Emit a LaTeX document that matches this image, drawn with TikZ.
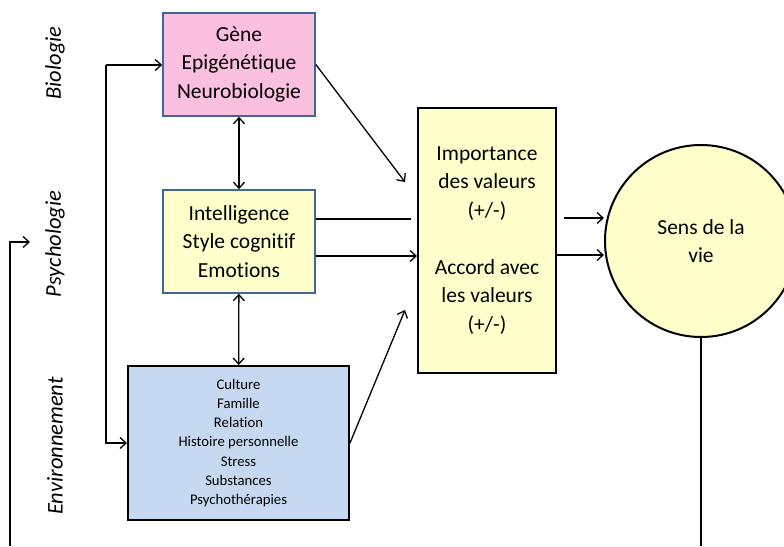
\documentclass[tikz,border=0pt]{standalone}
\usepackage{fontspec}
\setmainfont{Carlito}[Ligatures=NoCommon]
\usetikzlibrary{arrows.meta, positioning}
\definecolor{rose}{HTML}{FBBFDF}
\definecolor{jaune}{HTML}{FFFFCC}
\definecolor{bleu}{HTML}{C6D9F1}
\definecolor{bord}{HTML}{41679A}
\tikzstyle{facteur} = [rectangle, minimum width=152pt, minimum height=103pt, align=center,
    draw=bord, line width=1.6pt, font=\fontsize{21.5}{28.5}\selectfont]
\tikzstyle{milieu}  = [rectangle, minimum width=221pt, minimum height=154pt, align=center,
    draw=black, line width=2pt, fill=bleu, font=\fontsize{14.7}{19.3}\selectfont]
\tikzstyle{valeurs} = [rectangle, minimum width=138pt, minimum height=265pt, align=center,
    draw=black, line width=2pt, fill=jaune, font=\fontsize{21.5}{28.5}\selectfont]
\tikzstyle{sens}    = [circle, minimum size=192pt, align=center, inner sep=0pt,
    draw=black, line width=2pt, fill=jaune, font=\fontsize{21.5}{28.5}\selectfont]
\tikzstyle{domaine} = [rotate=90, font=\fontsize{22.5}{27}\selectfont\itshape]
\tikzstyle{arrow}   = [line width=1.3pt, -{Straight Barb[length=6pt,width=11pt]}]
\tikzstyle{both}    = [line width=1.3pt, {Straight Barb[length=6pt,width=11pt]}-{Straight Barb[length=6pt,width=11pt]}]
\tikzstyle{trait}   = [line width=1.3pt]

\begin{document}
\begin{tikzpicture}[x=1pt, y=-1pt]
    \useasboundingbox (0,0) rectangle (784,546);

    \node (bio)   [domaine] at (55,63)  {Biologie};
    \node (psy)   [domaine] at (55,244) {Psychologie};
    \node (env)   [domaine] at (55,446) {Environnement};

    \node (gene)  [facteur, fill=rose]  at (239,64.5)  {Gène\\Epigénétique\\Neurobiologie};
    \node (intel) [facteur, fill=jaune] at (239,241.5) {Intelligence\\Style cognitif\\Emotions};
    \node (cult)  [milieu]  at (238.5,443) {Culture\\Famille\\Relation\\Histoire personnelle\\Stress\\Substances\\Psychothérapies};
    \node (val)   [valeurs] at (487,240.5) {Importance\\des valeurs\\(+/-)\\[28.5pt]Accord avec\\les valeurs\\(+/-)};
    \node (vie)   [sens]    at (701,241)   {Sens de la\\vie};

    \coordinate (hautval) at (405,182);
    \coordinate (basval)  at (405,310);
    \coordinate (coupe)   at (411,219);
    \coordinate (sortie)  at (564,218);
    \coordinate (boucle)  at (10,546);
    \coordinate (retour)  at (30,242);
    \coordinate (fin)     at (701,546);
    \coordinate (gauche)  at (106,65);

    \draw [both]  (gene)  -- (intel);
    \draw [both]  (intel) -- (cult);
    \draw [arrow] (gauche) -- (gene.west |- gauche);
    \draw [arrow] (gauche) |- (cult.west);
    \draw [arrow] (gene.east) -- (hautval);
    \draw [arrow] (cult.east) -- (basval);
    \draw [trait] (intel.east |- coupe) -- (coupe);
    \draw [arrow] (intel.east |- 0,256) -- (val.west |- 0,256);
    \draw [arrow] (sortie) -- (vie.west |- sortie);
    \draw [arrow] (val.east |- 0,255) -- (vie.west |- 0,255);
    \draw [trait] (vie.south) -- (fin);
    \draw [arrow] (boucle) |- (retour);
\end{tikzpicture}
\end{document}
